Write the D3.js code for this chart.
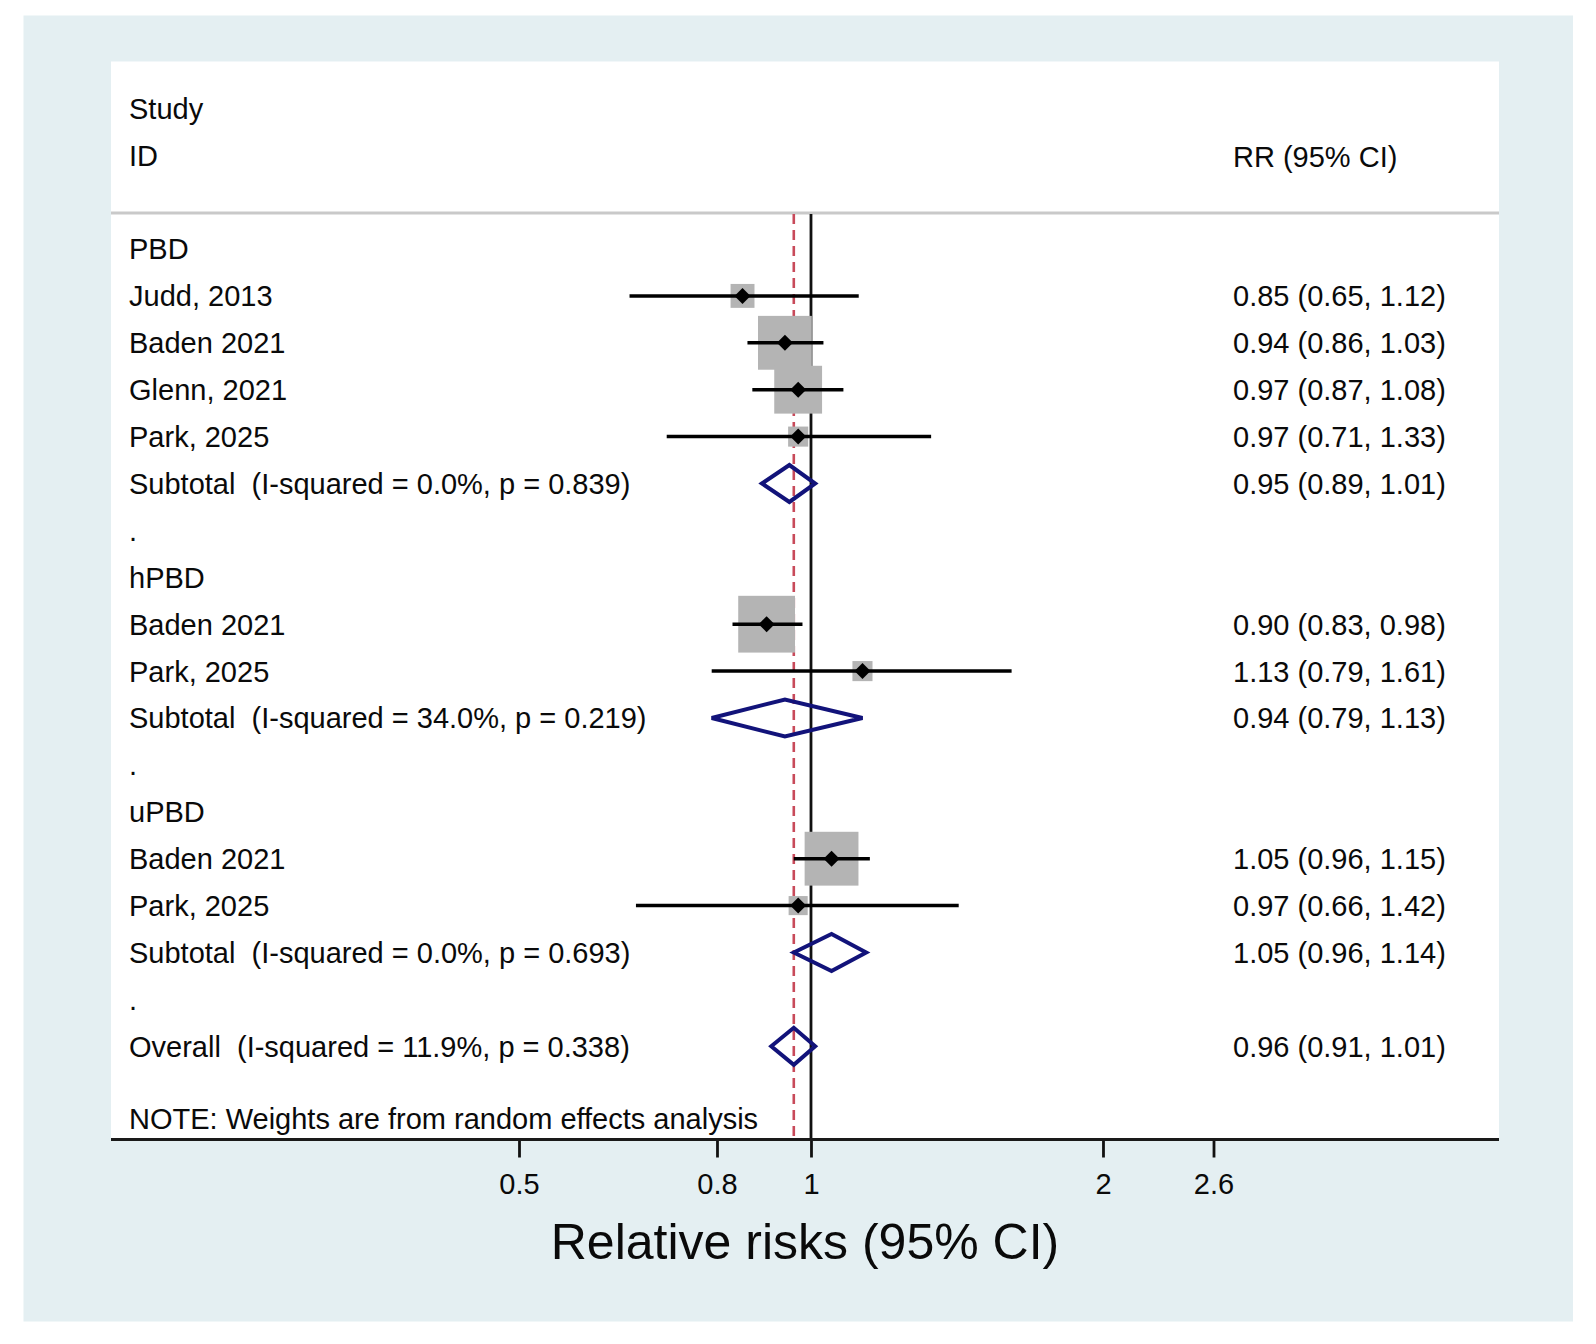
<!DOCTYPE html>
<html>
<head>
<meta charset="utf-8">
<script src="https://cdn.jsdelivr.net/npm/d3@7"></script>
<style>
  body { margin: 0; background: #ffffff; }
  text { font-family: "Liberation Sans", Arial, sans-serif; fill: #0a0a0a; }
</style>
</head>
<body>
<div id="chart"></div>
<script>
const width = 1596;
const height = 1344;

// data
const studyNames = ["Judd, 2013", "Baden 2021", "Glenn, 2021", "Park, 2025",
                    "Baden 2021", "Park, 2025",
                    "Baden 2021", "Park, 2025"];
const studyGroup = ["PBD", "PBD", "PBD", "PBD", "hPBD", "hPBD", "uPBD", "uPBD"];
const studyRR    = [0.85, 0.94, 0.97, 0.97, 0.90, 1.13, 1.05, 0.97];
const studyLower = [0.65, 0.86, 0.87, 0.71, 0.83, 0.79, 0.96, 0.66];
const studyUpper = [1.12, 1.03, 1.08, 1.33, 0.98, 1.61, 1.15, 1.42];
const studyWeight = [4.4, 22.3, 17.6, 3.1, 24.8, 3.1, 22.3, 2.8];

const groupNames = ["PBD", "hPBD", "uPBD"];
const groupI2    = ["0.0%", "34.0%", "0.0%"];
const groupP     = ["0.839", "0.219", "0.693"];
const groupRR    = [0.95, 0.94, 1.05];
const groupLower = [0.89, 0.79, 0.96];
const groupUpper = [1.01, 1.13, 1.14];

const overallRR = 0.96, overallLower = 0.91, overallUpper = 1.01;
const overallI2 = "11.9%", overallP = "0.338";

const xTicks = [0.5, 0.8, 1, 2, 2.6];

const f2 = d3.format(".2f");

// build row list
const rows = [];
groupNames.forEach((g, gi) => {
  rows.push({ type: "head", label: g });
  studyNames.forEach((s, i) => {
    if (studyGroup[i] !== g) return;
    rows.push({ type: "study", label: s, rr: studyRR[i], lo: studyLower[i], hi: studyUpper[i], w: studyWeight[i] });
  });
  rows.push({ type: "pooled", label: `Subtotal  (I-squared = ${groupI2[gi]}, p = ${groupP[gi]})`,
              rr: groupRR[gi], lo: groupLower[gi], hi: groupUpper[gi] });
  rows.push({ type: "gap", label: "." });
});
rows.push({ type: "pooled", label: `Overall  (I-squared = ${overallI2}, p = ${overallP})`,
           rr: overallRR, lo: overallLower, hi: overallUpper });

// layout
const panel = { x0: 111, x1: 1499, y0: 61.5, y1: 1139.5 };
const sepY = 213;
const fs = 29;

const x = d3.scaleLog().domain([0.5, 2.6]).range([519, 1213.5]);
const y = d3.scaleLinear().domain([0, 1]).range([249, 295.9]);
const box = d3.scaleSqrt().domain([0, 25]).range([0, 57]);

const svg = d3.select("#chart")
  .append("svg")
  .attr("width", width)
  .attr("height", height);

// 背景
svg.append("rect")
  .attr("x", 23.5).attr("y", 15.5)
  .attr("width", 1573 - 23.5).attr("height", 1321.5 - 15.5)
  .attr("fill", "#e4eff2");

svg.append("rect")
  .attr("x", panel.x0).attr("y", panel.y0)
  .attr("width", panel.x1 - panel.x0).attr("height", panel.y1 - panel.y0)
  .attr("fill", "#ffffff");

// header
svg.append("line")
  .attr("x1", panel.x0).attr("x2", panel.x1)
  .attr("y1", sepY).attr("y2", sepY)
  .attr("stroke", "#c9c9c9").attr("stroke-width", 3);

const textCol = 129;
const rrCol = 1233;

svg.append("text").attr("x", textCol).attr("y", 109 + fs * 0.36).attr("font-size", fs).text("Study");
svg.append("text").attr("x", textCol).attr("y", 156 + fs * 0.36).attr("font-size", fs).text("ID");
svg.append("text").attr("x", rrCol).attr("y", 157 + fs * 0.36).attr("font-size", fs).text("RR (95% CI)");

// reference lines
svg.append("line")
  .attr("x1", x(1)).attr("x2", x(1))
  .attr("y1", sepY + 1).attr("y2", panel.y1)
  .attr("stroke", "#111").attr("stroke-width", 2.8);

svg.append("line")
  .attr("x1", x(overallRR)).attr("x2", x(overallRR))
  .attr("y1", sepY + 1).attr("y2", panel.y1)
  .attr("stroke", "#c84a5a").attr("stroke-width", 2.6)
  .attr("stroke-dasharray", "10,6");

// row labels
svg.append("g")
  .selectAll("text")
  .data(rows)
  .enter()
  .append("text")
  .attr("x", textCol)
  .attr("y", (d, i) => y(i) + fs * 0.36)
  .attr("font-size", fs)
  .style("white-space", "pre")
  .text(d => d.label);

// estimates column
svg.append("g")
  .selectAll("text")
  .data(rows.map((d, i) => ({ ...d, i })).filter(d => d.rr !== undefined))
  .enter()
  .append("text")
  .attr("x", rrCol)
  .attr("y", d => y(d.i) + fs * 0.36)
  .attr("font-size", fs)
  .text(d => `${f2(d.rr)} (${f2(d.lo)}, ${f2(d.hi)})`);

const studyRows = rows.map((d, i) => ({ ...d, i })).filter(d => d.type === "study");
const pooledRows = rows.map((d, i) => ({ ...d, i })).filter(d => d.type === "pooled");

// weight boxes
svg.append("g")
  .selectAll("rect")
  .data(studyRows)
  .enter()
  .append("rect")
  .attr("x", d => x(d.rr) - box(d.w) / 2)
  .attr("y", d => y(d.i) - box(d.w) / 2)
  .attr("width", d => box(d.w))
  .attr("height", d => box(d.w))
  .attr("fill", "#b4b4b4");

// confidence intervals
svg.append("g")
  .selectAll("line")
  .data(studyRows)
  .enter()
  .append("line")
  .attr("x1", d => x(d.lo)).attr("x2", d => x(d.hi))
  .attr("y1", d => y(d.i)).attr("y2", d => y(d.i))
  .attr("stroke", "#000").attr("stroke-width", 3.5);

// point estimates
const m = 8;
svg.append("g")
  .selectAll("path")
  .data(studyRows)
  .enter()
  .append("path")
  .attr("d", d => {
    const cx = x(d.rr), cy = y(d.i);
    return `M${cx - m},${cy}L${cx},${cy - m}L${cx + m},${cy}L${cx},${cy + m}Z`;
  })
  .attr("fill", "#000");

// pooled diamonds
const dh = 18.5;
svg.append("g")
  .selectAll("path")
  .data(pooledRows)
  .enter()
  .append("path")
  .attr("d", d => {
    const cy = y(d.i);
    return `M${x(d.lo)},${cy}L${x(d.rr)},${cy - dh}L${x(d.hi)},${cy}L${x(d.rr)},${cy + dh}Z`;
  })
  .attr("fill", "none")
  .attr("stroke", "#12137a")
  .attr("stroke-width", 4)
  .attr("stroke-linejoin", "miter");

// note
svg.append("text")
  .attr("x", textCol)
  .attr("y", 1119 + fs * 0.36)
  .attr("font-size", fs)
  .text("NOTE: Weights are from random effects analysis");

// axis
const axis = d3.axisBottom(x)
  .tickValues(xTicks)
  .tickFormat(d => String(d))
  .tickSize(18)
  .tickSizeOuter(0)
  .tickPadding(16);

const ax = svg.append("g")
  .attr("transform", `translate(0,${panel.y1})`)
  .call(axis);
ax.select(".domain").remove();
ax.selectAll(".tick line").attr("stroke", "#111").attr("stroke-width", 2.8);
ax.selectAll(".tick text")
  .attr("font-size", fs)
  .attr("font-family", "'Liberation Sans', Arial, sans-serif")
  .attr("fill", "#0a0a0a");

svg.append("line")
  .attr("x1", panel.x0).attr("x2", panel.x1)
  .attr("y1", panel.y1).attr("y2", panel.y1)
  .attr("stroke", "#1a1a1a").attr("stroke-width", 3);

svg.append("text")
  .attr("x", (panel.x0 + panel.x1) / 2)
  .attr("y", 1259)
  .attr("text-anchor", "middle")
  .attr("font-size", 50)
  .text("Relative risks (95% CI)");
</script>
</body>
</html>
